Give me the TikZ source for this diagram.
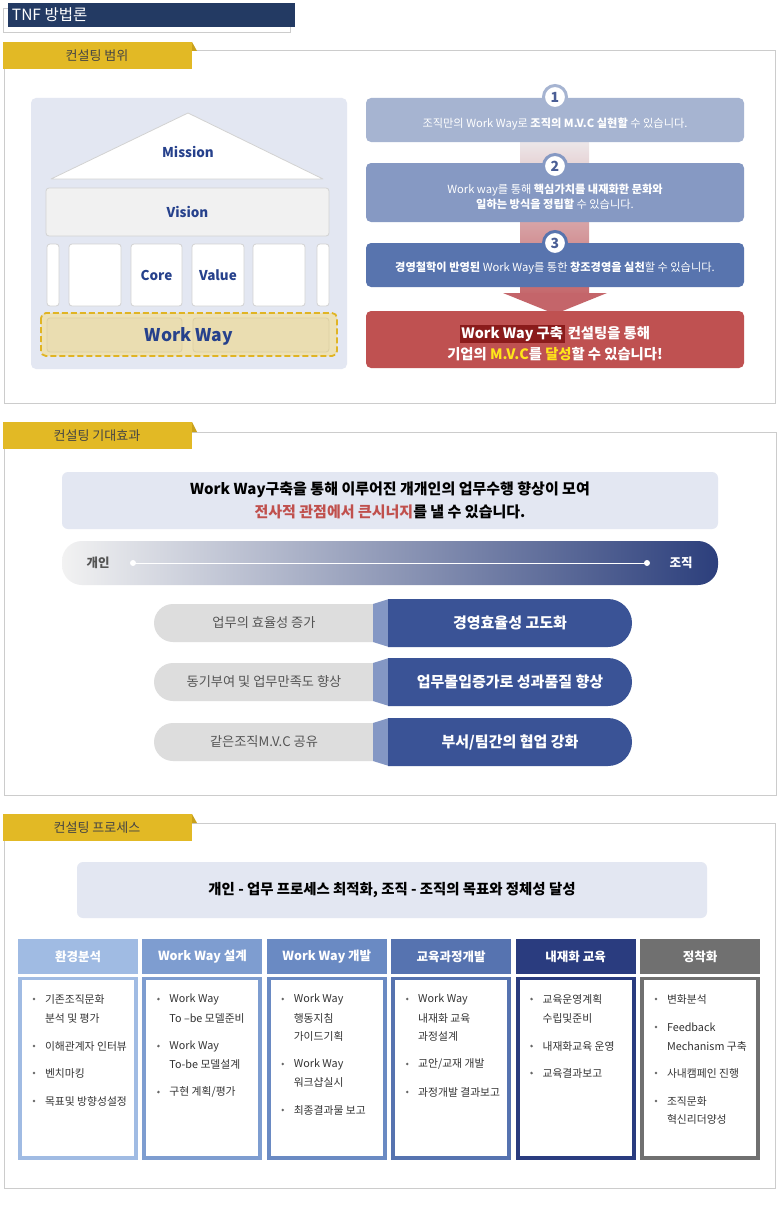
\documentclass[tikz,border=0pt]{standalone}
\usepackage{fontspec}
\setmainfont{Noto Sans CJK KR}
\newcommand{\myfs}[1]{\fontsize{#1}{#1}\selectfont}
\definecolor{secgray}{HTML}{CCCCCC}
\definecolor{titlenavy}{HTML}{233A63}
\definecolor{tabyellow}{HTML}{E2B925}
\definecolor{tabfold}{HTML}{C9A11C}
\definecolor{tabtext}{HTML}{444444}
\definecolor{panelbg}{HTML}{E3E7F2}
\definecolor{pillargray}{HTML}{D2D2D2}
\definecolor{visionfill}{HTML}{F1F1F1}
\definecolor{housenavy}{HTML}{26418C}
\definecolor{wwfill}{HTML}{EDE1B6}
\definecolor{wwinner}{HTML}{EADDB1}
\definecolor{wwinnerline}{HTML}{DCCFA3}
\definecolor{wwdash}{HTML}{E0B424}
\definecolor{bone}{HTML}{A6B4D1}
\definecolor{btwo}{HTML}{8699C3}
\definecolor{bthree}{HTML}{5874AE}
\definecolor{bred}{HTML}{BF5151}
\definecolor{hlred}{HTML}{8A1B1B}
\definecolor{yel}{HTML}{FFE51A}
\definecolor{numcol}{HTML}{4A5E95}
\definecolor{shafttop}{HTML}{EDE8EA}
\definecolor{shaftbot}{HTML}{C4666A}
\definecolor{arrowred}{HTML}{C4656A}
\definecolor{emphred}{HTML}{C0504D}
\definecolor{barleft}{HTML}{F2F2F2}
\definecolor{barmid}{HTML}{A9B1C9}
\definecolor{barright}{HTML}{2C3F7C}
\definecolor{pillgray}{HTML}{DDDDDD}
\definecolor{pilltext}{HTML}{555555}
\definecolor{connect}{HTML}{8497C4}
\definecolor{pillnavy}{HTML}{3A5396}
\definecolor{cone}{HTML}{A0BBE3}
\definecolor{ctwo}{HTML}{7E9DD0}
\definecolor{cthree}{HTML}{6A8AC3}
\definecolor{cfour}{HTML}{5673B0}
\definecolor{cfive}{HTML}{2A3C7F}
\definecolor{csix}{HTML}{707070}
\definecolor{bodytext}{HTML}{333333}
\definecolor{dotcol}{HTML}{666666}
\tikzset{
  every node/.style={inner sep=0pt, outer sep=0pt},
  sectbox/.style={draw=secgray, line width=1pt},
  tabtxt/.style={font=\myfs{13}, text=tabtext},
  housetxt/.style={font=\bfseries\myfs{13.5}, text=housenavy},
  pillar/.style={draw=pillargray, fill=white, rounded corners=3, line width=0.8pt},
  stepbox/.style={rounded corners=5, minimum width=378},
  boxtxt/.style={font=\myfs{11.2}, text=white, align=center},
  numcircle/.style={circle, fill=white, line width=3pt, minimum size=23, font=\bfseries\myfs{14}, text=numcol},
  pilltxt/.style={font=\myfs{13.2}, text=pilltext},
  navytxt/.style={font=\bfseries\myfs{15}, text=white},
  colhead/.style={minimum width=120, minimum height=35, font=\bfseries\myfs{12.5}, text=white},
  itemtxt/.style={anchor=west, font=\myfs{10.8}, text=bodytext},
}
\begin{document}
\begin{tikzpicture}[x=1pt,y=-1pt]
\useasboundingbox (0,0) rectangle (780,1228);
\fill[white] (0,0) rectangle (780,1228);

% ---------------- title
\draw[draw=secgray] (3,8) rectangle (290,32);
\fill[titlenavy] (8,3) rectangle (295,27);
\node[anchor=west, text=white, font=\myfs{15.5}] (title) at (12,15) {TNF 방법론};

% ================= SECTION 1
\draw[sectbox] (4,51) rectangle (775,403);
\fill[tabyellow] (3,42) rectangle (192,69);
\fill[tabfold] (192,42) -- (197,51) -- (192,51) -- cycle;
\node[tabtxt] (tab1) at (97,56) {컨설팅 범위};

% house
\fill[panelbg, rounded corners=5] (31,98) rectangle (347,369);
\draw[draw=pillargray, fill=white, line width=0.8pt, line join=round] (51,179) -- (188,113) -- (323,179) -- cycle;
\node[housetxt] (mission) at (188,152) {Mission};
\node[pillar, fill=visionfill, minimum width=283, minimum height=48, housetxt] (vision) at (187.5,212) {Vision};
\node[pillar, minimum width=12, minimum height=62] (p1) at (53,275) {};
\node[pillar, minimum width=52, minimum height=62] (p2) at (95,275) {};
\node[pillar, minimum width=51, minimum height=62, housetxt] (p3) at (156.5,275) {Core};
\node[pillar, minimum width=52, minimum height=62, housetxt] (p4) at (218,275) {Value};
\node[pillar, minimum width=52, minimum height=62] (p5) at (279,275) {};
\node[pillar, minimum width=12, minimum height=62] (p6) at (323,275) {};
\draw[fill=wwfill, draw=wwdash, line width=1.8pt, dash pattern=on 6pt off 3pt, rounded corners=5] (41,313) rectangle (337,356);
\draw[fill=wwinner, draw=wwinnerline, line width=0.8pt, rounded corners=3] (47,318) rectangle (182,352);
\draw[fill=wwinner, draw=wwinnerline, line width=0.8pt, rounded corners=3] (193,318) rectangle (329,352);
\node[font=\bfseries\myfs{17.5}, text=housenavy] (workway) at (189,336) {Work Way};

% steps
\shade[top color=shafttop, bottom color=shaftbot] (520,140) rectangle (589,296);
\fill[arrowred] (503,293) -- (607,293) -- (555,314) -- cycle;
\node[stepbox, fill=bone, minimum height=44] (s1) at (555,120) {};
\node[boxtxt] (s1t) at (555,124) {조직만의 Work Way로 \textbf{조직의 M.V.C 실현할} 수 있습니다.};
\node[stepbox, fill=btwo, minimum height=59] (s2) at (555,192.5) {};
\node[boxtxt] (s2t) at (555,196.5) {Work way를 통해 \textbf{핵심가치를 내재화한 문화와}\\[2pt]\textbf{일하는 방식을 정립할} 수 있습니다.};
\node[stepbox, fill=bthree, minimum height=44] (s3) at (555,265) {};
\node[boxtxt] (s3t) at (555,268) {\textbf{경영철학이 반영된} Work Way를 통한 \textbf{창조경영을 실천}할 수 있습니다.};
\node[stepbox, fill=bred, minimum height=57] (s4) at (555,339.5) {};
\node[font=\bfseries\myfs{14.3}, text=white, align=center] (s4t) at (555,343) {{\setlength{\fboxsep}{1.5pt}\colorbox{hlred}{Work Way 구축}} 컨설팅을 통해\\[4pt]기업의 {\color{yel}M.V.C}를 {\color{yel}달성}할 수 있습니다!};
\node[numcircle, draw=bone] (n1) at (555,97) {1};
\node[numcircle, draw=btwo] (n2) at (555,166) {2};
\node[numcircle, draw=bthree] (n3) at (555,243) {3};

% ================= SECTION 2
\draw[sectbox] (4,432) rectangle (776,795);
\fill[tabyellow] (3,422) rectangle (192,449);
\fill[tabfold] (192,422) -- (197,432) -- (192,432) -- cycle;
\node[tabtxt] (tab2) at (97,436) {컨설팅 기대효과};

\fill[panelbg, rounded corners=6] (62,472) rectangle (718,529);
\node[font=\bfseries\myfs{15}, text=black, align=center] (sum2) at (390,500) {Work Way구축을 통해 이루어진 개개인의 업무수행 향상이 모여\\[6pt]{\color{emphred}전사적 관점에서 큰시너지}를 낼 수 있습니다.};

\shade[left color=barleft, middle color=barmid, right color=barright, rounded corners=20] (62,541) rectangle (718,585);
\node[font=\bfseries\myfs{12.5}, text=pilltext] (gein) at (98,563) {개인};
\node[font=\bfseries\myfs{12.5}, text=white] (jojik) at (681,563) {조직};
\coordinate (la) at (133,563);
\coordinate (lb) at (647,563);
\draw[white, line width=1pt] (la) -- (lb);
\fill[white] (la) circle (3);
\fill[white] (lb) circle (3);

% rows
\foreach \yc/\lt/\rt/\nm in {623/{업무의 효율성 증가}/{경영효율성 고도화}/ra, 682/{동기부여 및 업무만족도 향상}/{업무몰입증가로 성과품질 향상}/rb, 742/{같은조직M.V.C 공유}/{부서/팀간의 협업 강화}/rc}{
  \fill[pillgray, rounded corners=19] (154,\yc-19) rectangle (392,\yc+19);
  \fill[connect] (373,\yc-19) -- (389,\yc-24) -- (389,\yc+24) -- (373,\yc+19) -- cycle;
  \fill[pillnavy] (388,\yc-24) [rounded corners=24] -- (632,\yc-24) -- (632,\yc+24) [sharp corners] -- (388,\yc+24) -- cycle;
  \node[pilltxt] (\nm l) at (264,\yc) {\lt};
  \node[navytxt] (\nm r) at (510,\yc) {\rt};
}

% ================= SECTION 3
\draw[sectbox] (4,823) rectangle (775,1188);
\fill[tabyellow] (3,814) rectangle (192,841);
\fill[tabfold] (192,814) -- (197,823) -- (192,823) -- cycle;
\node[tabtxt] (tab3) at (97,828) {컨설팅 프로세스};

\fill[panelbg, rounded corners=6] (77,862) rectangle (707,918);
\node[font=\bfseries\myfs{14.4}, text=black] (sum3) at (392,890) {개인 - 업무 프로세스 최적화, 조직 - 조직의 목표와 정체성 달성};

% columns
\foreach \i/\col/\head in {0/cone/환경분석, 1/ctwo/Work Way 설계, 2/cthree/Work Way 개발, 3/cfour/교육과정개발, 4/cfive/내재화 교육, 5/csix/정착화}{
  \pgfmathsetmacro{\L}{18+124.4*\i}
  \node[colhead, fill=\col, anchor=north west] (h\i) at (\L,939) {\head};
  \fill[\col] (\L,977) rectangle (\L+120,1160);
  \fill[white] (\L+4,980) rectangle (\L+116,1156);
}

% column 1
\def\L{18}
\fill[dotcol] (\L+16,999) circle (1.4);
\node[itemtxt] (c1a) at (\L+27,999) {기존조직문화};
\node[itemtxt] (c1b) at (\L+27,1018) {분석 및 평가};
\fill[dotcol] (\L+16,1046) circle (1.4);
\node[itemtxt] (c1c) at (\L+27,1046) {이해관계자 인터뷰};
\fill[dotcol] (\L+16,1073) circle (1.4);
\node[itemtxt] (c1d) at (\L+27,1073) {벤치마킹};
\fill[dotcol] (\L+16,1101) circle (1.4);
\node[itemtxt] (c1e) at (\L+27,1101) {목표및 방향성설정};

% column 2
\def\L{142.4}
\fill[dotcol] (\L+16,999) circle (1.4);
\node[itemtxt] (c2a) at (\L+27,999) {Work Way};
\node[itemtxt] (c2b) at (\L+27,1018) {To –be 모델준비};
\fill[dotcol] (\L+16,1046) circle (1.4);
\node[itemtxt] (c2c) at (\L+27,1046) {Work Way};
\node[itemtxt] (c2d) at (\L+27,1064) {To-be 모델설계};
\fill[dotcol] (\L+16,1092) circle (1.4);
\node[itemtxt] (c2e) at (\L+27,1092) {구현 계획/평가};

% column 3
\def\L{266.8}
\fill[dotcol] (\L+16,999) circle (1.4);
\node[itemtxt] (c3a) at (\L+27,999) {Work Way};
\node[itemtxt] (c3b) at (\L+27,1018) {행동지침};
\node[itemtxt] (c3c) at (\L+27,1036) {가이드기획};
\fill[dotcol] (\L+16,1064) circle (1.4);
\node[itemtxt] (c3d) at (\L+27,1064) {Work Way};
\node[itemtxt] (c3e) at (\L+27,1082) {워크샵실시};
\fill[dotcol] (\L+16,1110) circle (1.4);
\node[itemtxt] (c3f) at (\L+27,1110) {최종결과물 보고};

% column 4
\def\L{391.2}
\fill[dotcol] (\L+16,999) circle (1.4);
\node[itemtxt] (c4a) at (\L+27,999) {Work Way};
\node[itemtxt] (c4b) at (\L+27,1018) {내재화 교육};
\node[itemtxt] (c4c) at (\L+27,1036) {과정설계};
\fill[dotcol] (\L+16,1064) circle (1.4);
\node[itemtxt] (c4d) at (\L+27,1064) {교안/교재 개발};
\fill[dotcol] (\L+16,1092) circle (1.4);
\node[itemtxt] (c4e) at (\L+27,1092) {과정개발 결과보고};

% column 5
\def\L{515.6}
\fill[dotcol] (\L+16,999) circle (1.4);
\node[itemtxt] (c5a) at (\L+27,999) {교육운영계획};
\node[itemtxt] (c5b) at (\L+27,1018) {수립및준비};
\fill[dotcol] (\L+16,1046) circle (1.4);
\node[itemtxt] (c5c) at (\L+27,1046) {내재화교육 운영};
\fill[dotcol] (\L+16,1073) circle (1.4);
\node[itemtxt] (c5d) at (\L+27,1073) {교육결과보고};

% column 6
\def\L{640}
\fill[dotcol] (\L+16,999) circle (1.4);
\node[itemtxt] (c6a) at (\L+27,999) {변화분석};
\fill[dotcol] (\L+16,1027) circle (1.4);
\node[itemtxt] (c6b) at (\L+27,1027) {Feedback};
\node[itemtxt] (c6c) at (\L+27,1046) {Mechanism 구축};
\fill[dotcol] (\L+16,1073) circle (1.4);
\node[itemtxt] (c6d) at (\L+27,1073) {사내캠페인 진행};
\fill[dotcol] (\L+16,1101) circle (1.4);
\node[itemtxt] (c6e) at (\L+27,1101) {조직문화};
\node[itemtxt] (c6f) at (\L+27,1119) {혁신리더양성};
\end{tikzpicture}
\end{document}
